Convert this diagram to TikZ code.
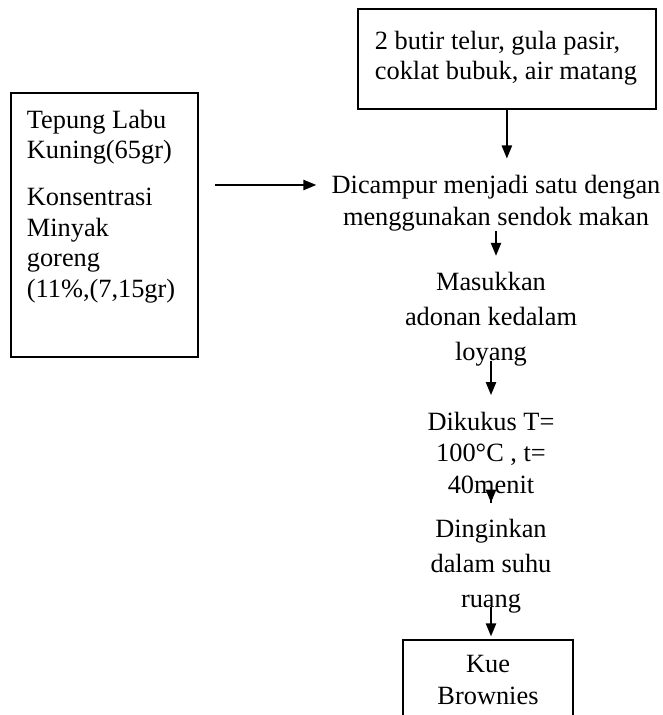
\documentclass[tikz,border=0pt]{standalone}
\usepackage{fontspec}
\setmainfont{Liberation Serif}
\usepackage{tikz}
\usetikzlibrary{positioning,calc,arrows.meta}

\begin{document}
\begin{tikzpicture}[
    box/.style={rectangle, draw, line width=1pt, inner xsep=0.34cm, font=\fontsize{15}{17.5}\selectfont},
    stepnode/.style={align=center, inner sep=0pt, font=\fontsize{15}{18}\selectfont},
    widestep/.style={stepnode, font=\fontsize{15}{19.8}\selectfont},
    arrow/.style={-{Triangle[length=7.4pt,width=5.8pt]}, line width=1pt, shorten >=0.33cm}
]

    \clip (0,0) rectangle (13.26,-14.3);

    % Nodes
    \node[box, anchor=north west, inner ysep=0.44cm] (ingredients) at (7.14,-0.16)
        {\parbox[c][1.12cm][t]{5.28cm}{\raggedright 2 butir telur, gula pasir,\\ coklat bubuk, air matang}};
    \node[box, anchor=north west, inner xsep=0.32cm, inner ysep=0.34cm] (flour) at (0.2,-1.84)
        {\parbox[c][4.6cm][t]{3.1cm}{\raggedright Tepung Labu\\ Kuning(65gr)\par\vspace{9pt}
         Konsentrasi\\ Minyak\\ goreng\\ (11\%,(7,15gr)}};
    \node[stepnode, anchor=north] (mix) at (9.92,-3.5) {Dicampur menjadi satu dengan\\ menggunakan sendok makan};
    \node[widestep, below=0.82cm of mix, xshift=-0.1cm] (fill) {Masukkan\\ adonan kedalam\\ loyang};
    \node[stepnode, below=0.9cm of fill] (cook) {Dikukus T=\\ 100°C , t=\\ 40menit};
    \node[widestep, below=0.5cm of cook] (cool) {Dinginkan\\ dalam suhu\\ ruang};
    \node[box, stepnode, below=0.52cm of cool, xshift=-0.06cm, minimum width=3.4cm, inner xsep=0.34cm, inner ysep=0.3cm] (brownies) {Kue\\ Brownies};

    % Arrows
    \draw[arrow] (ingredients.south) -- (ingredients.south |- mix.north);
    \draw[arrow, shorten <=0.32cm, shorten >=0.3cm] ($(flour.east |- mix.north)+(0,-0.2)$) -- ($(mix.north west)+(0,-0.2)$);
    \draw[arrow] (mix.south) -- (mix.south |- fill.north);
    \draw[arrow, shorten <=-0.12cm] (fill.south) -- (fill.south |- cook.north);
    \draw[arrow, shorten <=-0.18cm] (cook.south) -- (cook.south |- cool.north);
    \draw[arrow, shorten <=-0.12cm, shorten >=0.06cm] (cool.south) -- (cool.south |- brownies.north);

\end{tikzpicture}
\end{document}
